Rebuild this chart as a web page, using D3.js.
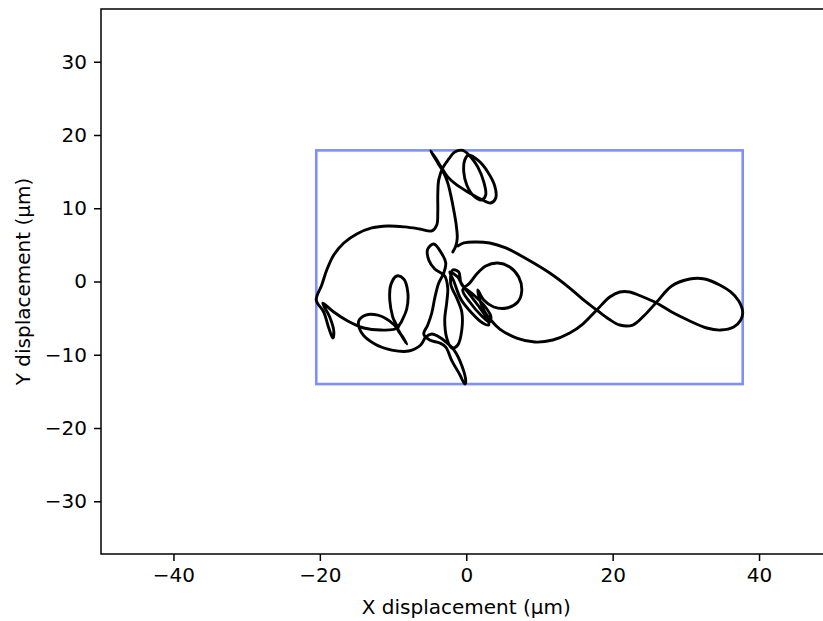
<!DOCTYPE html>
<html>
<head>
<meta charset="utf-8">
<script src="https://cdn.jsdelivr.net/npm/d3@7"></script>
<style>
body { margin: 0; background: #fff; }
text { font-family: "DejaVu Sans", sans-serif; fill: #000; }
</style>
</head>
<body>
<script>
// ticks and labels
var xTicks = [-40, -20, 0, 20, 40],
	yTicks = [-30, -20, -10, 0, 10, 20, 30];
var xLabel = "X displacement (µm)",
	yLabel = "Y displacement (µm)";

// trajectory (µm)
var trackX = [
	-1.84,-1.43,-1.23,-1.37,-1.71,-2.12,-2.53,-3.07,-3.89,-4.85,
	-4.03,-3.35,-2.53,-1.30,0.20,1.98,3.35,4.03,3.89,2.94,
	1.71,0.34,-0.20,-0.34,0.07,1.02,2.12,2.66,2.39,1.57,
	0.61,-0.48,-1.57,-2.39,-3.21,-3.76,-3.89,-3.89,-4.03,-4.71,
	-6.35,-8.40,-10.72,-12.91,-14.96,-16.73,-18.10,-19.06,-19.74,-20.49,
	-19.47,-18.78,-18.24,-18.10,-18.65,-19.60,-18.10,-16.19,-14.00,-11.68,
	-9.49,-10.04,-10.45,-10.31,-9.49,-8.54,-7.99,-8.13,-8.81,-9.36,
	-8.67,-8.13,-8.81,-9.36,-10.45,-12.09,-13.73,-14.69,-14.28,-12.50,
	-10.18,-7.86,-6.22,-5.53,-4.71,-3.48,-2.80,-1.71,-0.61,-0.07,
	-0.20,-0.89,-1.98,-2.80,-3.62,-4.99,-5.81,-5.26,-4.71,-4.30,
	-3.76,-3.07,-2.80,-3.48,-4.44,-5.26,-5.12,-4.30,-2.94,-2.53,
	-2.66,-2.94,-2.66,-1.98,-1.16,-0.61,-0.61,-1.30,-2.12,-1.84,
	-1.02,-0.75,0.20,1.57,2.80,3.07,2.25,0.75,-0.75,-1.71,
	-2.25,-1.16,-0.48,1.02,2.39,3.35,3.21,2.12,0.48,-0.48,
	0.48,1.43,2.66,4.30,5.94,7.17,7.58,7.04,5.53,3.76,
	2.39,1.57,2.25,3.35,4.58,6.90,9.36,11.82,14.14,15.92,
	17.83,19.60,20.97,22.34,23.84,26.02,28.07,30.26,32.85,34.77,
	36.54,37.50,37.77,37.23,36.13,34.63,32.58,30.53,28.07,26.02,
	24.25,22.75,20.97,19.47,17.83,16.19,14.14,11.41,8.26,5.40,
	3.21,1.16,-0.34,-1.16
];
var trackY = [
	4.03,4.85,5.94,7.72,9.77,11.82,13.46,14.82,16.19,17.83,
	16.60,15.51,14.28,13.18,12.23,11.27,10.72,11.41,13.05,14.96,
	16.46,17.28,16.60,14.96,13.18,11.68,11.13,11.82,13.59,15.64,
	17.01,17.90,17.69,16.73,15.51,13.87,11.82,9.49,7.72,6.90,
	7.17,7.45,7.58,7.31,6.49,5.26,3.62,1.57,-0.48,-2.53,
	-4.17,-6.35,-7.72,-6.76,-4.85,-2.94,-4.17,-5.40,-6.35,-6.63,
	-6.35,-4.85,-2.53,-0.48,0.75,0.34,-1.43,-3.76,-5.40,-6.49,
	-7.58,-8.54,-7.45,-6.49,-5.40,-4.58,-4.58,-5.40,-7.04,-8.54,
	-9.36,-9.49,-8.67,-7.58,-7.17,-7.72,-8.26,-9.29,-11.47,-13.66,
	-14.00,-12.70,-10.79,-8.95,-8.40,-7.99,-7.17,-5.94,-4.30,-2.25,
	-0.20,1.16,2.53,4.03,5.12,4.44,2.94,1.71,0.75,-0.89,
	-2.80,-5.26,-7.72,-9.08,-8.67,-6.63,-4.17,-2.25,-0.34,1.57,
	1.30,-0.07,-1.43,-3.21,-4.99,-5.94,-5.67,-4.30,-2.39,0.07,
	1.30,0.61,-0.61,-1.84,-3.21,-4.71,-5.53,-4.71,-2.80,-1.16,
	-0.20,1.02,2.12,2.53,1.98,0.61,-1.30,-2.80,-3.62,-3.48,
	-2.53,-1.16,-3.62,-5.26,-6.49,-7.72,-8.26,-7.99,-7.04,-5.81,
	-3.89,-2.12,-1.43,-1.43,-1.98,-2.94,-4.17,-5.26,-6.35,-6.63,
	-6.22,-5.26,-4.17,-2.66,-1.43,-0.48,0.34,0.34,-0.61,-2.80,
	-4.71,-5.94,-5.94,-5.12,-3.89,-2.66,-0.89,1.16,3.07,4.58,
	5.26,5.40,5.26,4.85
];

var width = 823,
	height = 621;

var svg = d3.select("body").append("svg")
	.attr("width", width)
	.attr("height", height);

// equal aspect: ~7.32 px per µm on both axes, right spine falls outside the window
var x = d3.scaleLinear().domain([-49.9, 49.9]).range([101, 831.5]);
var y = d3.scaleLinear().domain([-37.2, 37.2]).range([554, 9]);

var pts = trackX.map(function(d, i){ return [d, trackY[i]]; });

// bounding box of the track
var ex = d3.extent(trackX), ey = d3.extent(trackY);
svg.append("rect")
	.attr("x", x(ex[0]))
	.attr("y", y(ey[1]))
	.attr("width", x(ex[1]) - x(ex[0]))
	.attr("height", y(ey[0]) - y(ey[1]))
	.attr("fill", "none")
	.attr("stroke", "#7f8eff")
	.attr("stroke-width", 2.6);

var line = d3.line()
	.x(function(d){ return x(d[0]); })
	.y(function(d){ return y(d[1]); })
	.curve(d3.curveCatmullRom.alpha(0.5));

svg.append("path")
	.datum(pts)
	.attr("d", line)
	.attr("fill", "none")
	.attr("stroke", "#000")
	.attr("stroke-width", 2.9)
	.attr("stroke-linejoin", "round")
	.attr("stroke-linecap", "round");

// axes
var xAxis = svg.append("g")
	.attr("transform", "translate(0,554)")
	.call(d3.axisBottom(x).tickValues(xTicks).tickSize(7).tickPadding(7).tickSizeOuter(0));
var yAxis = svg.append("g")
	.attr("transform", "translate(101,0)")
	.call(d3.axisLeft(y).tickValues(yTicks).tickSize(7).tickPadding(7).tickSizeOuter(0));

[xAxis, yAxis].forEach(function(g){
	g.select(".domain").remove();
	g.selectAll("line").attr("stroke", "#000").attr("stroke-width", 1.5);
	g.selectAll("text")
		.attr("fill", "#000")
		.style("font-family", "DejaVu Sans")
		.style("font-size", "20px");
});

// spines
svg.append("rect")
	.attr("x", 101).attr("y", 9)
	.attr("width", 730.5).attr("height", 545)
	.attr("fill", "none")
	.attr("stroke", "#000")
	.attr("stroke-width", 1.5);

svg.append("text")
	.attr("x", x(0))
	.attr("y", 614)
	.attr("text-anchor", "middle")
	.style("font-size", "20px")
	.text(xLabel);

svg.append("text")
	.attr("transform", "translate(30," + y(0) + ") rotate(-90)")
	.attr("text-anchor", "middle")
	.style("font-size", "20px")
	.text(yLabel);
</script>
</body>
</html>
